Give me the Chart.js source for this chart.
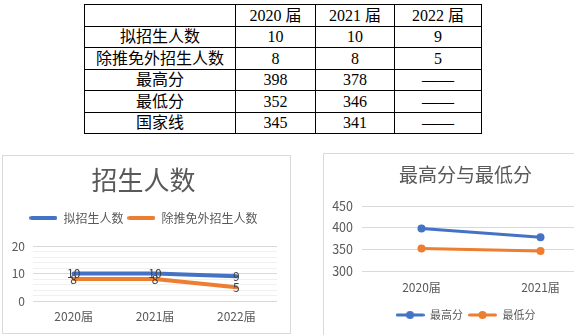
<!DOCTYPE html>
<html lang="zh-CN">
<head>
<meta charset="utf-8">
<title>招生人数与分数线</title>
<script src="https://cdn.jsdelivr.net/npm/chart.js@4.4.1/dist/chart.umd.min.js"></script>
<style>
  html, body { margin: 0; padding: 0; background: #fff; }
  body { position: relative; width: 574px; height: 335px; overflow: hidden; }
  #summary {
    position: absolute; left: 84px; top: 4px; width: 397px;
    border-collapse: collapse; table-layout: fixed;
    font: 16px "Liberation Serif", "Noto Sans CJK SC", serif; color: #000;
  }
  #summary td { border: 1px solid #000; padding: 0; text-align: center; height: 20.5px; line-height: 19px; }
  .frame { position: absolute; border: 1px solid #d9d9d9; box-sizing: border-box; }
  canvas { position: absolute; }
</style>
</head>
<body>
<table id="summary">
  <colgroup><col style="width:151px"><col style="width:80px"><col style="width:79px"><col style="width:87px"></colgroup>
  <tbody></tbody>
</table>
<div class="frame" style="left:2px;top:155px;width:289px;height:179px"></div>
<canvas id="countChart" width="289" height="179" style="left:2px;top:155px"></canvas>
<div class="frame" style="left:323px;top:153px;width:290px;height:200px"></div>
<canvas id="scoreChart" width="290" height="190" style="left:323px;top:153px"></canvas>

<script>
// 届别与各项数据
const cohorts = ['2020', '2021', '2022'];
const plannedCounts = [10, 10, 9];     // 拟招生人数
const netCounts = [8, 8, 5];           // 除推免外招生人数
const highScores = [398, 378];         // 最高分
const lowScores = [352, 346];          // 最低分
const nationalLines = [345, 341];      // 国家线
const countTicks = [0, 10, 20];
const scoreTicks = [300, 350, 400, 450];

const BLUE = '#4472C4';
const ORANGE = '#ED7D31';
const INK = '#595959';

Chart.defaults.font.family = '"Noto Sans CJK SC", sans-serif';
Chart.defaults.font.size = 12;
Chart.defaults.color = INK;

// 表格
(function buildTable() {
  const fill = (list) => cohorts.map((_, i) => (i < list.length ? list[i] : '——'));
  const rows = [
    ['', ...cohorts.map((y) => `${y} 届`)],
    ['拟招生人数', ...fill(plannedCounts)],
    ['除推免外招生人数', ...fill(netCounts)],
    ['最高分', ...fill(highScores)],
    ['最低分', ...fill(lowScores)],
    ['国家线', ...fill(nationalLines)],
  ];
  document.querySelector('#summary tbody').innerHTML = rows
    .map((row) => `<tr>${row.map((cell) => `<td>${cell}</td>`).join('')}</tr>`)
    .join('');
}());

// 图例小图标：粗线，可带圆点
function legendGlyph(color, width, lineWidth, dotRadius) {
  const c = document.createElement('canvas');
  c.width = width;
  c.height = 10;
  const g = c.getContext('2d');
  g.strokeStyle = color;
  g.lineWidth = lineWidth;
  g.lineCap = 'round';
  g.beginPath();
  g.moveTo(lineWidth / 2, 5);
  g.lineTo(width - lineWidth / 2, 5);
  g.stroke();
  if (dotRadius) {
    g.fillStyle = color;
    g.beginPath();
    g.arc(width / 2, 5, dotRadius, 0, Math.PI * 2);
    g.fill();
  }
  return c;
}

function legendWith(glyphs, size, padding) {
  return {
    labels: {
      usePointStyle: true,
      pointStyleWidth: glyphs[0].width,
      padding,
      font: { size },
      color: INK,
      generateLabels(chart) {
        return Chart.defaults.plugins.legend.labels.generateLabels(chart)
          .map((item, i) => ({ ...item, pointStyle: glyphs[i] }));
      },
    },
  };
}

// 在每个点上写出数值
const valueLabels = {
  id: 'valueLabels',
  afterDatasetsDraw(chart) {
    const { ctx } = chart;
    ctx.save();
    ctx.font = '12px "Noto Sans CJK SC"';
    ctx.fillStyle = '#404040';
    ctx.textAlign = 'center';
    ctx.textBaseline = 'middle';
    chart.data.datasets.forEach((ds, i) => {
      chart.getDatasetMeta(i).data.forEach((pt, j) => {
        ctx.fillText(String(ds.data[j]), pt.x, pt.y);
      });
    });
    ctx.restore();
  },
};

new Chart(document.getElementById('countChart'), {
  type: 'line',
  data: {
    labels: cohorts.map((y) => `${y}届`),
    datasets: [
      { label: '拟招生人数', data: plannedCounts, borderColor: BLUE, backgroundColor: BLUE },
      { label: '除推免外招生人数', data: netCounts, borderColor: ORANGE, backgroundColor: ORANGE },
    ].map((ds) => ({ ...ds, borderWidth: 4, pointRadius: 0, pointHoverRadius: 0, borderCapStyle: 'round', borderJoinStyle: 'round' })),
  },
  options: {
    responsive: false,
    animation: false,
    layout: { padding: { left: 8, right: 14, top: 0, bottom: 0 } },
    plugins: {
      title: {
        display: true, text: '招生人数', color: INK,
        font: { size: 26, weight: 'normal' },
        padding: { top: 9.4, bottom: 12.4 },
      },
      legend: legendWith([legendGlyph(BLUE, 28, 4), legendGlyph(ORANGE, 28, 4)], 12, 4),
      tooltip: { enabled: false },
    },
    scales: {
      x: {
        offset: true,
        grid: { display: false, drawTicks: false },
        border: { display: false },
        ticks: { padding: 8, maxRotation: 0 },
        afterFit: (s) => { s.height = 33; },
      },
      // 图例与绘图区之间的空隙
      xGap: {
        type: 'category', position: 'top',
        grid: { display: false, drawTicks: false }, border: { display: false }, ticks: { display: false },
        afterFit: (s) => { s.height = 12; },
      },
      y: {
        min: countTicks[0],
        max: countTicks[countTicks.length - 1],
        border: { display: false },
        grid: {
          drawTicks: false,
          color: (c) => (countTicks.includes(c.tick.value) ? '#d9d9d9' : '#f0f0f0'),
        },
        ticks: {
          stepSize: 2, autoSkip: false, padding: 8,
          callback: (v) => (countTicks.includes(v) ? v : ''),
        },
        afterFit: (s) => { s.width = 23; },
      },
    },
  },
  plugins: [valueLabels],
});

new Chart(document.getElementById('scoreChart'), {
  type: 'line',
  data: {
    labels: cohorts.slice(0, highScores.length).map((y) => `${y}届`),
    datasets: [
      { label: '最高分', data: highScores, borderColor: BLUE, backgroundColor: BLUE },
      { label: '最低分', data: lowScores, borderColor: ORANGE, backgroundColor: ORANGE },
    ].map((ds) => ({ ...ds, borderWidth: 3, pointRadius: 4, pointBorderWidth: 0, pointHoverRadius: 4 })),
  },
  options: {
    responsive: false,
    animation: false,
    layout: { padding: { left: 8, right: 13, top: 0, bottom: 12.5 } },
    plugins: {
      title: {
        display: true, text: '最高分与最低分', color: INK,
        font: { size: 19, weight: 'normal' },
        padding: { top: 10.6, bottom: 19.6 },
      },
      legend: { position: 'bottom', ...legendWith([legendGlyph(BLUE, 29, 3, 4), legendGlyph(ORANGE, 29, 3, 4)], 11, 5) },
      tooltip: { enabled: false },
    },
    scales: {
      x: {
        offset: true,
        grid: { display: false, drawTicks: false },
        border: { display: false },
        ticks: { padding: 8.8, maxRotation: 0 },
        afterFit: (s) => { s.height = 33.5; },
      },
      y: {
        min: scoreTicks[0],
        max: scoreTicks[scoreTicks.length - 1],
        border: { display: false },
        grid: { drawTicks: false, color: '#d9d9d9' },
        ticks: { stepSize: 50, padding: 9, font: { size: 12.5 } },
        afterFit: (s) => { s.width = 31; },
      },
    },
  },
});
</script>
</body>
</html>
